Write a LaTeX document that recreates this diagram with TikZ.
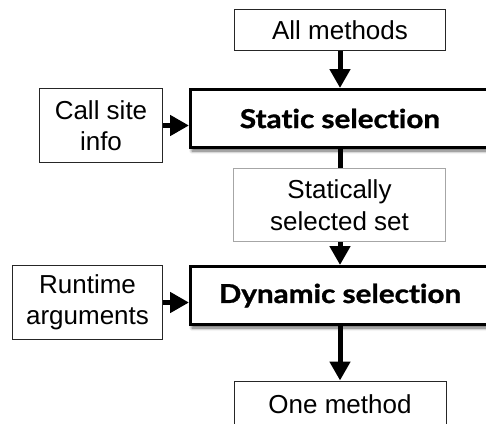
\documentclass[tikz,border=0pt]{standalone}
\usepackage{fontspec}
\setmainfont{Liberation Sans}
\newfontfamily\headfont{Lato}[Ligatures=NoCommon, BoldFeatures={FakeStretch=1.14, FakeBold=1.2}]
\usetikzlibrary{arrows.meta,shadows.blur}
\tikzset{
  thinbox/.style={draw=black!85, line width=0.9pt, fill=white, align=center,
    inner sep=0pt, font=\fontsize{26}{31.5}\selectfont},
  greybox/.style={thinbox, draw=black!35},
  thickbox/.style={draw=black, line width=3pt, fill=white, inner sep=0pt,
    font=\headfont\bfseries\fontsize{26}{31.5}\selectfont,
    blur shadow={shadow xshift=1.5pt, shadow yshift=-3.5pt, shadow blur steps=8,
      shadow blur radius=3pt, shadow opacity=60}},
  arr/.style={line width=5pt, -{Triangle[width=20pt,length=19pt]}},
}
\begin{document}
\begin{tikzpicture}[x=1pt,y=-1pt]
\useasboundingbox (0,0) rectangle (486,423);
\node[thinbox, minimum width=211pt, minimum height=41pt] (allm) at (340,30) {All methods};
\node[thickbox, minimum width=299pt, minimum height=58pt] (static) at (340,118.5) {Static selection};
\node[thinbox, minimum width=123pt, minimum height=74pt] (call) at (101,125.5) {Call site\\info};
\node[thickbox, minimum width=299pt, minimum height=58pt] (dynamic) at (340,295.5) {Dynamic selection};
\node[thinbox, minimum width=150pt, minimum height=74pt] (runtime) at (87.5,302.5) {Runtime\\arguments};
\node[thinbox, minimum width=212pt, minimum height=60pt, anchor=north] (one) at (340,380.5) {};
\node[font=\fontsize{26}{31.5}\selectfont] (onetext) at (340,404) {One method};
\draw[arr] (allm) -- (static);
\draw[arr] (call.east) -- (call.east -| static.west);
\draw[arr] (runtime.east) -- (runtime.east -| dynamic.west);
\draw[arr] (static) -- (dynamic);
\draw[arr] (dynamic) -- (one);
\node[greybox, minimum width=212pt, minimum height=73pt] (set) at (339.5,205) {Statically\\selected set};
\end{tikzpicture}
\end{document}
